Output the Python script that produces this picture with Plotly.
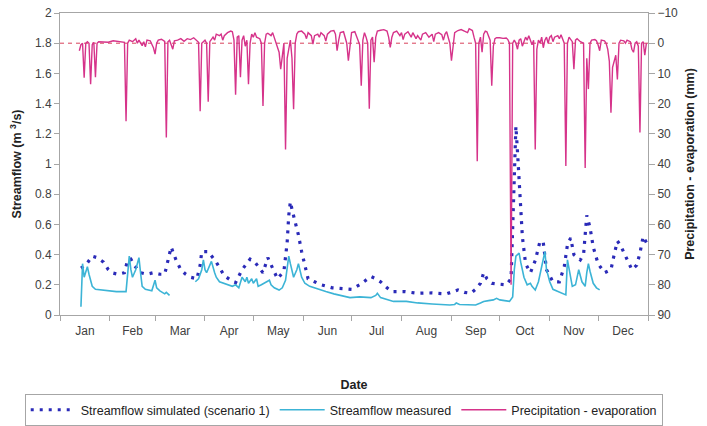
import pandas as pd
import plotly.graph_objects as go

# ---------------- data (day of year, 0 = 1 Jan) ----------------
pe_day = [12, 13, 14, 15, 16, 17, 18, 19, 20, 21, 22, 23, 24, 27, 30, 33, 36, 39, 40, 41, 42, 43, 45, 47, 48, 49, 51, 52, 53, 54, 56, 58, 59, 60, 61, 63, 65, 66, 67, 68, 70, 71, 73, 75, 77, 79, 81, 83, 85, 86, 87, 88, 90, 91, 92, 93, 95, 96, 97, 99, 100, 101, 102, 104, 106, 107, 108, 109, 110, 111, 112, 113, 114, 115, 116, 117, 118, 119,
          120, 121, 122, 124, 125, 126, 127, 128, 129, 131, 132, 133, 134, 135, 136, 137, 138, 139, 140, 141, 142, 143, 144, 145, 146, 147, 148, 150, 152, 153, 154, 156, 157, 158, 160, 161, 162, 164, 165, 166, 168, 170, 171, 172, 173, 174, 176, 177, 178, 179, 180, 181, 183, 184, 185, 186, 187, 188, 189, 190, 191, 192, 193, 194, 195, 196, 197, 199, 201, 203, 204, 205, 206, 207,
          209, 211, 212, 213, 214, 216, 218, 219, 221, 222, 224, 225, 227, 229, 231, 232, 233, 235, 237, 238, 239, 240, 241, 242, 243, 244, 245,
          247, 249, 251, 253, 254, 256, 257, 258, 259, 260, 261, 262, 263, 264, 265, 266, 267, 268, 269, 270, 271, 273, 275, 277, 278, 279, 280, 281, 282, 283, 284, 285, 286, 287, 288, 289, 290, 291, 292, 293, 294, 295, 296, 297, 298, 299, 300, 301, 302, 303, 304, 305, 306, 307, 309, 310, 311, 312, 313, 314, 315, 316, 317, 318, 319, 320, 321, 323, 325, 326, 327, 328, 329, 330, 332, 333, 334, 335, 336, 338, 339, 340, 341, 342, 343, 344, 345, 346, 347, 348, 350, 351, 352, 354, 355, 356, 357, 358, 359, 360, 361, 362, 363, 364]
pe_val = [2.5, 0.5, 0, 11.4, 0, -0.5, 0, 13.6, 0.5, -0.3, 11.3, 0, -0.5, -0.5, -0.3, -0.8, -0.6, -0.5, -0.3, 25.8, 0, -1, -0.5, -1.5, 0, -1, 0.8, -0.5, 1.2, -1, -0.8, 1.5, 3.6, 0, -1, -1.3, -0.6, 31.2, -0.5, -1, 2, -0.8, -1, -1.5, -0.6, -1.5, -1.2, -1.8, -1, -0.3, 22.5, 0, -1, 0, 19.4, -0.5, -2, -1, -3, -2.5, -3, -1, -2.5, -3.5, -4, -3.8, -1, 17.1, -2, -2.5, 11.3, -1, -2.5, 1, -1, 13.6, 0, -3,
          -2, -3.5, -2, -1.5, 0, 20.8, 0, -3, -3.3, -2.5, -3.5, -2, 0, 1.5, 3, 8.6, 3, 0, 35.2, 5, 2, -1, 5, 21.9, 0, -3, -3.8, -4, -3, -1.5, -3.5, -2.5, 0.3, -2.5, -3, -2, -3.5, -2.5, -0.7, -3, -4, -4.2, -3, 2.5, -1, -3.5, -3.8, -2, 0, 5.8, 0, -3.5, -3.8, -2, -1, 0.5, 14.1, -1, -3.5, -2, 0, 21.7, -1, -2, 6.3, -2, -4, -4.3, -4.5, -4, -2, 1.4, -2, -3.5,
          -4, -2.5, -3.5, -1.2, -3, -3.8, -2, -3.5, -1.5, -2.5, -1, -3, -3.5, -2, -3, -0.5, -3, -3.5, -2.8, -1, -3, -3.8, -2, 0, 5.8, 0, -3.5,
          -4.2, -4.5, -4, -3.5, -4.8, -4.2, -2, 0, 39.1, 0, -2, 3, -3, -4, -3.8, -2, -1, 14.1, 1, -1.5, -1.8, -1.8, -1.6, -1.7, -1.2, 0, 80, 0, -1, 0, 2, -1, -1.5, 1, -0.5, -2, -1, -2.5, -1, 0.5, -1, 35.2, 2, -1, 0, -2, 1.5, -1, -2, 0, -2, -2.5, -0.5, -2, -2.5, -1.5, -2.8, -1, 0, 40.7, 0, -2, -1, -0.5, 8.6, -1, -1.5, -0.5, 0, 41.3, 5, 15.2, 0, -1, -1.2, -0.8, 0.5, 2.5, -1, -0.8, 0, 2, 6, 23, 8, 6, 4, 12, 0, -1, -0.8, 0, -1, -0.5, 2, 3, 0, -0.5, 1, 29.6, 0, -0.5, 4, 0]

sim_day = [13, 16, 20, 23, 27, 30, 32, 36, 40, 42, 44, 46, 50, 54, 58, 62, 65, 67, 69, 72, 75, 78, 81, 85, 87, 88, 92, 97, 102, 106, 109, 113, 118, 121, 124, 126, 129, 131, 135, 139, 140, 141, 142, 143, 144, 146, 148, 150, 152, 154, 158, 162, 169, 177, 181, 186, 190, 193, 196, 199, 203, 206, 214, 222, 231, 240, 247, 251, 255, 258, 261, 263, 265, 268, 272, 277, 280, 281, 282, 283, 284, 285, 286, 287, 289, 292, 295, 298, 300, 302, 306, 310, 313, 315, 317, 319, 323, 325, 327, 329, 331, 334, 338, 342, 344, 346, 348, 351, 355, 358, 360, 362, 364]
sim_val = [0.31, 0.33, 0.39, 0.38, 0.35, 0.3, 0.28, 0.27, 0.28, 0.365, 0.37, 0.33, 0.28, 0.27, 0.28, 0.27, 0.27, 0.365, 0.45, 0.365, 0.3, 0.27, 0.25, 0.24, 0.33, 0.42, 0.42, 0.35, 0.26, 0.23, 0.215, 0.3, 0.37, 0.35, 0.31, 0.28, 0.38, 0.33, 0.24, 0.29, 0.39, 0.48, 0.66, 0.75, 0.7, 0.62, 0.53, 0.42, 0.33, 0.24, 0.22, 0.2, 0.18, 0.175, 0.17, 0.2, 0.23, 0.255, 0.24, 0.22, 0.18, 0.155, 0.155, 0.144, 0.146, 0.14, 0.166, 0.15, 0.144, 0.17, 0.21, 0.28, 0.24, 0.21, 0.205, 0.2, 0.24, 0.6, 1.0, 1.25, 1.08, 0.9, 0.7, 0.52, 0.34, 0.28, 0.36, 0.49, 0.48, 0.3, 0.22, 0.22, 0.32, 0.465, 0.51, 0.4, 0.365, 0.4, 0.66, 0.58, 0.45, 0.34, 0.28, 0.3, 0.4, 0.49, 0.46, 0.39, 0.3, 0.33, 0.41, 0.52, 0.48]

meas_day = [13, 14, 15, 16, 17, 18, 20, 22, 26, 30, 35, 41, 43, 44, 45, 47, 49, 50, 51, 53, 57, 59, 60, 62, 64, 65, 66, 67, 68, 69, 84, 86, 88, 89, 90, 91, 93, 94, 96, 97, 99, 102, 104, 107, 109, 111, 113, 114, 115, 116, 117, 119, 120, 122, 123, 125, 127, 130, 131, 133, 136, 138, 140, 142, 143, 145, 147, 148, 150, 152, 155, 160, 165, 170, 175, 180, 186, 193, 196, 197, 199, 204, 207, 215, 222, 231, 238, 242, 245, 246, 248, 255, 258, 261, 263, 266, 269, 271, 273, 276, 279, 281, 282, 283, 285, 286, 288, 290, 292, 293, 295, 297, 299, 301, 302, 304, 306, 310, 314, 315, 316, 318, 320, 322, 324, 326, 327, 328, 329, 331, 333, 335]
meas_val = [0.055, 0.34, 0.25, 0.29, 0.32, 0.27, 0.19, 0.17, 0.165, 0.16, 0.155, 0.155, 0.39, 0.3, 0.25, 0.3, 0.38, 0.28, 0.19, 0.17, 0.16, 0.23, 0.18, 0.16, 0.145, 0.14, 0.15, 0.14, 0.13, None, 0.22, 0.24, 0.3, 0.365, 0.3, 0.28, 0.33, 0.355, 0.28, 0.25, 0.22, 0.21, 0.2, 0.19, 0.2, 0.18, 0.25, 0.23, 0.22, 0.25, 0.21, 0.24, 0.21, 0.24, 0.19, 0.2, 0.21, 0.23, 0.2, 0.18, 0.165, 0.18, 0.23, 0.39, 0.34, 0.25, 0.3, 0.34, 0.25, 0.21, 0.19, 0.17, 0.155, 0.14, 0.13, 0.115, 0.12, 0.115, 0.13, 0.144, 0.115, 0.1, 0.09, 0.09, 0.08, 0.073, 0.07, 0.066, 0.07, 0.08, 0.07, 0.068, 0.066, 0.08, 0.09, 0.095, 0.1, 0.11, 0.1, 0.095, 0.09, 0.12, 0.3, 0.39, 0.41, 0.35, 0.25, 0.2, 0.21, 0.19, 0.166, 0.22, 0.32, 0.42, 0.3, 0.22, 0.17, 0.15, 0.133, 0.365, 0.3, 0.19, 0.2, 0.3, 0.22, 0.19, 0.28, 0.34, 0.29, 0.21, 0.18, 0.166]

year_start = pd.Timestamp("2001-01-01")


def to_dates(days):
    return [year_start + pd.Timedelta(days=d) for d in days]


FONT = "Liberation Sans, Arial, sans-serif"
AXIS_COL = "#a6a6a6"
TXT = "#404040"
TITLE_COL = "#222222"

fig = go.Figure()
fig.add_trace(go.Scatter(
    x=to_dates(sim_day), y=sim_val, mode="lines",
    name="Streamflow simulated (scenario 1)",
    line=dict(color="#2a2ab8", width=3.2, dash="3px,6px"),
))
fig.add_trace(go.Scatter(
    x=to_dates(meas_day), y=meas_val, mode="lines",
    name="Streamflow measured", connectgaps=False,
    line=dict(color="#3cb4d6", width=1.6),
))
fig.add_trace(go.Scatter(
    x=to_dates(pe_day), y=pe_val, mode="lines", yaxis="y2",
    name="Precipitation - evaporation",
    line=dict(color="#d6338a", width=1.4),
))

fig.add_shape(type="line", xref="paper", x0=0, x1=1, yref="y2", y0=0, y1=0,
              line=dict(color="#d8405a", width=1, dash="4px,4px"), layer="below")

fig.update_layout(
    width=707, height=426,
    margin=dict(l=60, r=59, t=13, b=111, autoexpand=False),
    paper_bgcolor="white", plot_bgcolor="white",
    font=dict(family=FONT, size=12, color=TXT),
    showlegend=True,
    legend=dict(orientation="h", x=-0.06, xanchor="left", y=-0.262, yanchor="top",
                bordercolor="#a6a6a6", borderwidth=1, bgcolor="white",
                font=dict(size=12.5, color=TITLE_COL), itemwidth=45,
                tracegroupgap=0),
    xaxis=dict(
        type="date", range=[year_start, year_start + pd.Timedelta(days=365)],
        dtick="M1", tick0=year_start, tickformat="%b", ticklabelmode="period",
        ticks="outside", ticklen=5, tickcolor=AXIS_COL, automargin=False,
        showline=True, linecolor=AXIS_COL, linewidth=1, mirror=True,
        showgrid=False, zeroline=False,
        title=dict(text="<b>Date</b>", standoff=42, font=dict(size=12.5, color=TITLE_COL)),
    ),
    yaxis=dict(
        range=[0, 2], dtick=0.2, ticks="outside", ticklen=5, tickcolor=AXIS_COL,
        showline=True, linecolor=AXIS_COL, linewidth=1, automargin=False,
        showgrid=False, zeroline=False,
        title=dict(text="<b>Streamflow (m <sup>3</sup>/s)</b>", standoff=10,
                   font=dict(size=12.5, color=TITLE_COL)),
    ),
    yaxis2=dict(
        overlaying="y", side="right", range=[90, -10], dtick=10,
        ticks="outside", ticklen=6, tickcolor=AXIS_COL, automargin=False,
        showline=True, linecolor=AXIS_COL, linewidth=1,
        showgrid=False, zeroline=False,
        title=dict(text="<b>Precipitation - evaporation (mm)</b>", standoff=8,
                   font=dict(size=12.5, color=TITLE_COL)),
    ),
)

fig.write_html("out.html")
